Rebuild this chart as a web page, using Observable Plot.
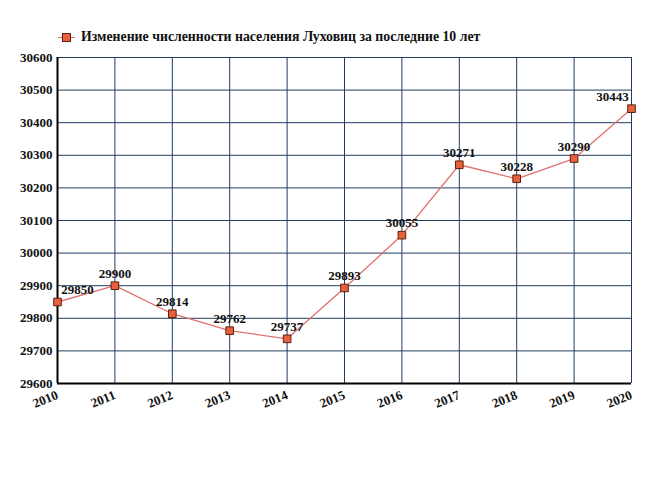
<!DOCTYPE html>
<html>
<head>
<meta charset="utf-8">
<script src="https://cdn.jsdelivr.net/npm/d3@7"></script>
<script src="https://cdn.jsdelivr.net/npm/@observablehq/plot@0.6"></script>
<style>
  body { margin: 0; background: #fff; width: 650px; height: 478px; overflow: hidden; }
  #legend { height: 48px; position: relative; font-family: "Liberation Serif", serif; font-weight: bold; font-size: 13.8px; color: #111; }
  #legend .item { position: absolute; left: 58px; top: 29px; display: flex; align-items: center; }
  #legend .sym { position: relative; width: 17px; height: 10px; margin-right: 6px; }
  #legend .sym .ln { position: absolute; left: 0; top: 5px; width: 17px; height: 1px; background: #e07070; }
  #legend .sym .sq { position: absolute; left: 4px; top: 1px; width: 7px; height: 7px; background: #e8603c; border: 1px solid #5a2010; }
  svg { display: block; }
</style>
</head>
<body>
<div id="legend"><div class="item"><div class="sym"><div class="ln"></div><div class="sq"></div></div><span id="legendText"></span></div></div>
<div id="chart"></div>
<script>
const seriesName = "Изменение численности населения Луховиц за последние 10 лет";
const years = [2010, 2011, 2012, 2013, 2014, 2015, 2016, 2017, 2018, 2019, 2020];
const population = [29850, 29900, 29814, 29762, 29737, 29893, 30055, 30271, 30228, 30290, 30443];
const yTicks = [29600, 29700, 29800, 29900, 30000, 30100, 30200, 30300, 30400, 30500, 30600];
const labelDx = [20, 0, 0, 0, 0, 0, 0, 0, 0, 0, -19];

document.getElementById("legendText").textContent = seriesName;

const data = years.map((y, i) => ({year: y, value: population[i], dx: labelDx[i]}));

const chart = Plot.plot({
  width: 650,
  height: 430,
  marginTop: 9,
  marginBottom: 95,
  marginLeft: 57,
  marginRight: 19,
  style: {fontFamily: "'Liberation Serif', serif", fontWeight: "bold", color: "#111", background: "#fff"},
  x: {domain: [2010, 2020], label: null},
  y: {domain: [29600, 30600], label: null},
  marks: [
    Plot.ruleY(yTicks, {stroke: "#213d5e", strokeWidth: 1}),
    Plot.ruleX(years, {stroke: "#213d5e", strokeWidth: 1}),
    Plot.ruleY([29600], {stroke: "#000", strokeWidth: 2}),
    Plot.ruleX([2010], {stroke: "#000", strokeWidth: 2}),
    Plot.axisY({ticks: yTicks, tickFormat: "d", tickSize: 0, tickPadding: 5, fontSize: 13, fontWeight: "bold", label: null}),
    Plot.axisX({ticks: years, tickFormat: "d", tickRotate: -22, tickSize: 0, tickPadding: 11, fontSize: 13, fontWeight: "bold", label: null}),
    Plot.line(data, {x: "year", y: "value", stroke: "#e07070", strokeWidth: 1.3}),
    Plot.dot(data, {x: "year", y: "value", symbol: "square", r: 4.3, fill: "#e8603c", stroke: "#5a2010", strokeWidth: 1}),
    ...data.map(d => Plot.text([d], {x: "year", y: "value", text: d => String(d.value), dx: d.dx, dy: -12, fontSize: 13, fontWeight: "bold", fill: "#111"}))
  ]
});
document.getElementById("chart").appendChild(chart);
</script>
</body>
</html>
